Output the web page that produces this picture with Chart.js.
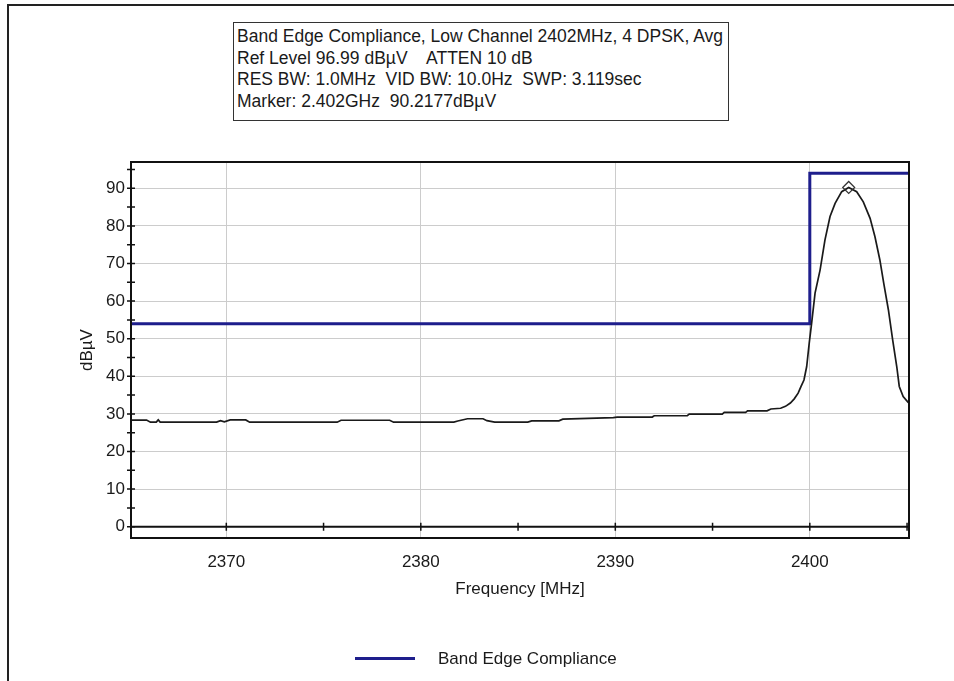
<!DOCTYPE html>
<html>
<head>
<meta charset="utf-8">
<script src="https://cdn.jsdelivr.net/npm/chart.js@4/dist/chart.umd.min.js"></script>
<style>
  html, body { margin: 0; padding: 0; background: #fff; }
  body { width: 954px; height: 681px; position: relative; overflow: hidden;
         font-family: "Liberation Sans", Arial, sans-serif; color: #1a1a1a; }
  #frame { position: absolute; left: 7px; top: 4px; right: 0; bottom: 0;
           border-left: 2px solid #222; border-top: 2px solid #222; }
  #wrap { position: absolute; left: 0; top: 0; width: 954px; height: 681px; }
  #info { position: absolute; left: 233px; top: 22px; width: 491px; height: 94px;
          border: 1.5px solid #333; background: #fff; padding: 3px 0 0 3px;
          font-size: 17.5px; line-height: 21.7px; white-space: pre; }
  #legend { position: absolute; left: 355px; top: 646px; height: 26px; }
  #legend .swatch { position: absolute; left: 0; top: 11px; width: 60px; height: 3px; }
  #legend .label { position: absolute; left: 83px; top: 0; font-size: 17px; line-height: 26px; white-space: nowrap; }
</style>
</head>
<body>
<div id="frame"></div>
<div id="wrap"><canvas id="chart" width="954" height="681"></canvas></div>
<div id="info"></div>
<div id="legend"><div class="swatch"></div><div class="label"></div></div>
<script>
// Sweep settings shown in the header box
const sweepTitle = "Band Edge Compliance, Low Channel 2402MHz, 4 DPSK, Avg";
const refLevel = 96.99;   // dBµV, top of the display
const attenDb = 10;
const resBw = "1.0MHz";
const vidBw = "10.0Hz";
const sweepTime = "3.119sec";

// Peak marker
const markerFreq = 2402.0;    // MHz
const markerLevel = 90.2177;  // dBµV

// Measured trace (MHz, dBµV)
const traceFreq = [
  2365.1, 2365.9, 2366.1, 2366.4, 2366.5, 2366.6, 2369.5, 2369.7, 2369.9, 2370.2,
  2371.0, 2371.2, 2375.7, 2375.9, 2378.4, 2378.6, 2381.7, 2381.9, 2382.4, 2383.2,
  2383.4, 2383.8, 2385.5, 2385.7, 2387.1, 2387.3, 2389.9, 2390.1, 2391.9, 2392.0,
  2393.7, 2393.8, 2395.5, 2395.6, 2396.7, 2396.8, 2397.8, 2398.0, 2398.5, 2398.75,
  2399.0, 2399.2, 2399.4, 2399.55, 2399.7, 2399.84, 2399.97, 2400.1, 2400.27, 2400.53,
  2400.78, 2401.04, 2401.3, 2401.64, markerFreq, 2402.41, 2402.75, 2403.1, 2403.35, 2403.6,
  2403.8, 2404.04, 2404.26, 2404.47, 2404.6, 2404.8, 2405.07
];
const traceLevel = [
  28.35, 28.35, 27.8, 27.8, 28.4, 27.8, 27.8, 28.2, 27.9, 28.4,
  28.4, 27.8, 27.8, 28.3, 28.3, 27.8, 27.8, 28.1, 28.7, 28.7,
  28.2, 27.8, 27.8, 28.15, 28.15, 28.6, 29.0, 29.15, 29.15, 29.5,
  29.5, 29.95, 29.95, 30.4, 30.4, 30.8, 30.8, 31.3, 31.5, 32.0,
  32.9, 34.0, 35.5, 37.3, 39.0, 42.6, 48.8, 54.4, 62.1, 68.3,
  76.3, 82.5, 86.0, 89.1, markerLevel, 89.1, 86.4, 82.0, 77.1, 71.0,
  64.8, 57.7, 49.7, 42.6, 37.3, 34.6, 33.0
];

// Band edge compliance limit (step at the band edge)
const limitFreq = [2365.1, 2400.0, 2400.0, 2405.1];
const limitLevel = [54, 54, 94, 94];

// Axis ticks
const freqTicks = [2370, 2380, 2390, 2400];
const freqMinorTicks = [2365, 2370, 2375, 2380, 2385, 2390, 2395, 2400, 2405];
const levelTicks = [0, 10, 20, 30, 40, 50, 60, 70, 80, 90];
const levelMinorTicks = [0, 5, 10, 15, 20, 25, 30, 35, 40, 45, 50, 55, 60, 65, 70, 75, 80, 85, 90, 95];
const freqMin = 2365.1, freqMax = 2405.1;
const levelMin = refLevel - 100;

const limitColor = '#1e1e8c';
const traceColor = '#1a1a1a';
const textColor = '#1a1a1a';
const gridColor = '#cccccc';

// Header box text
document.getElementById('info').textContent = [
  sweepTitle,
  `Ref Level ${refLevel.toFixed(2)} dBµV    ATTEN ${attenDb} dB`,
  `RES BW: ${resBw}  VID BW: ${vidBw}  SWP: ${sweepTime}`,
  `Marker: ${(markerFreq / 1000).toFixed(3)}GHz  ${markerLevel.toFixed(4)}dBµV`
].join('\n');

// Legend
document.querySelector('#legend .swatch').style.background = limitColor;
document.querySelector('#legend .label').textContent = 'Band Edge Compliance';

const zip = (xs, ys) => xs.map((x, i) => ({ x, y: ys[i] }));

// Plot frame, zero line and tick marks drawn over the data
const axisDecor = {
  id: 'axisDecor',
  afterDatasetsDraw(chart) {
    const { ctx, chartArea: a, scales: { x, y } } = chart;
    ctx.save();
    ctx.strokeStyle = '#111';
    const y0 = y.getPixelForValue(0);
    ctx.lineWidth = 2;
    ctx.beginPath();
    ctx.moveTo(a.left, y0); ctx.lineTo(a.right, y0);
    ctx.stroke();
    ctx.lineWidth = 1.5;
    ctx.beginPath();
    freqMinorTicks.forEach(f => {
      const px = x.getPixelForValue(f);
      if (px < a.left - 1 || px > a.right + 1) return;
      ctx.moveTo(px, y0 - 4); ctx.lineTo(px, y0 + 4);
    });
    levelMinorTicks.forEach(v => {
      const py = y.getPixelForValue(v);
      ctx.moveTo(a.left - 4, py); ctx.lineTo(a.left + 4, py);
    });
    ctx.stroke();
    ctx.lineWidth = 2;
    ctx.strokeRect(a.left, a.top, a.right - a.left, a.bottom - a.top);
    ctx.restore();
  }
};

const font = { family: '"Liberation Sans", Arial, sans-serif', size: 17 };

new Chart(document.getElementById('chart'), {
  type: 'line',
  data: {
    datasets: [
      {
        label: 'Marker',
        data: [{ x: markerFreq, y: markerLevel }],
        showLine: false,
        pointStyle: 'rectRot',
        pointRadius: 6,
        pointBorderWidth: 1.2,
        pointBorderColor: '#333',
        pointBackgroundColor: 'rgba(255,255,255,0)',
        order: 1
      },
      {
        label: 'Trace',
        data: zip(traceFreq, traceLevel),
        borderColor: traceColor,
        borderWidth: 1.7,
        pointRadius: 0,
        tension: 0,
        order: 2
      },
      {
        label: 'Band Edge Compliance',
        data: zip(limitFreq, limitLevel),
        borderColor: limitColor,
        borderWidth: 3,
        pointRadius: 0,
        tension: 0,
        order: 3
      }
    ]
  },
  options: {
    responsive: false,
    animation: false,
    events: [],
    layout: { padding: { top: 162, right: 45, bottom: 73, left: 0 } },
    plugins: { legend: { display: false }, tooltip: { enabled: false } },
    scales: {
      x: {
        type: 'linear',
        min: freqMin, max: freqMax,
        afterBuildTicks: s => { s.ticks = freqTicks.map(v => ({ value: v })); },
        afterFit: s => { s.height = 70; },
        grid: { color: gridColor, drawTicks: false },
        border: { display: false },
        ticks: { font, color: textColor, padding: 14, maxRotation: 0, callback: v => String(v) },
        title: { display: true, text: 'Frequency [MHz]', font, color: textColor, padding: { top: 0, bottom: 8 } }
      },
      y: {
        min: levelMin, max: refLevel,
        afterBuildTicks: s => { s.ticks = levelTicks.map(v => ({ value: v })); },
        afterFit: s => { s.width = 131; },
        grid: { color: gridColor, drawTicks: false },
        border: { display: false },
        ticks: { font, color: textColor, padding: 6, callback: v => String(v) },
        title: { display: true, text: 'dBµV', font, color: textColor, padding: { top: 77, bottom: 0 } }
      }
    }
  },
  plugins: [axisDecor]
});
</script>
</body>
</html>
